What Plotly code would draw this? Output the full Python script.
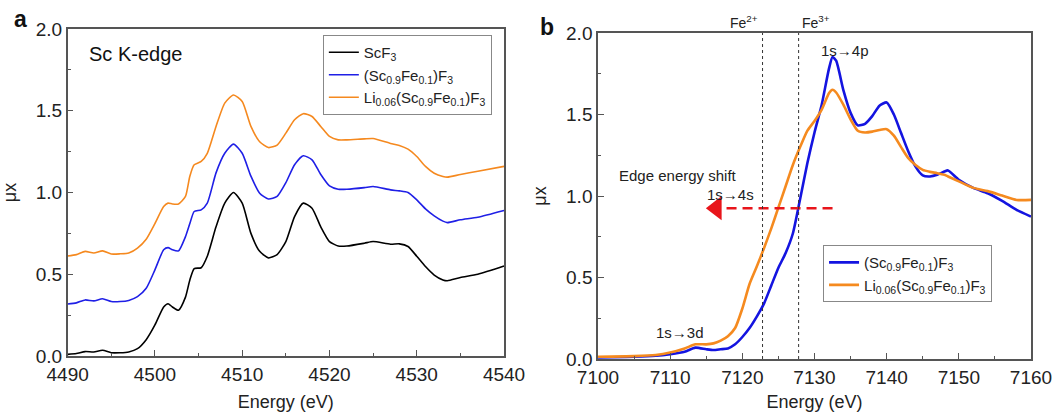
import plotly.graph_objects as go

# ---------------- data: panel a (Sc K-edge) ----------------
energy_a = [4490, 4491, 4492, 4493, 4494, 4495, 4496, 4497, 4498, 4499, 4500, 4501, 4501.5, 4502, 4502.7,
            4503.5, 4504, 4504.5, 4505.3, 4506, 4507, 4508, 4509, 4510, 4511, 4512, 4513, 4514, 4515, 4516,
            4517, 4518, 4519, 4520, 4521, 4522, 4524, 4525, 4527, 4528, 4529, 4530, 4531, 4532, 4533,
            4533.5, 4535, 4537, 4540]
scf3 = [0.01, 0.015, 0.027, 0.025, 0.035, 0.02, 0.02, 0.025, 0.045, 0.10, 0.19, 0.30, 0.32, 0.30, 0.28,
        0.36, 0.465, 0.535, 0.54, 0.61, 0.79, 0.935, 1.0, 0.935, 0.75, 0.64, 0.60, 0.62, 0.70, 0.853,
        0.935, 0.904, 0.79, 0.70, 0.673, 0.673, 0.69, 0.70, 0.684, 0.686, 0.67, 0.61, 0.547, 0.495, 0.465,
        0.46, 0.48, 0.50, 0.55]
scfe_a = [0.318, 0.325, 0.343, 0.337, 0.35, 0.333, 0.333, 0.34, 0.363, 0.414, 0.527, 0.65, 0.663, 0.65, 0.643,
          0.73, 0.81, 0.884, 0.894, 0.935, 1.12, 1.24, 1.296, 1.24, 1.10, 0.996, 0.96, 0.976, 1.06, 1.17,
          1.225, 1.20, 1.11, 1.04, 1.02, 1.02, 1.03, 1.037, 1.016, 1.01, 1.00, 0.955, 0.90, 0.857, 0.825,
          0.816, 0.833, 0.849, 0.89]
li_a = [0.612, 0.62, 0.64, 0.63, 0.643, 0.624, 0.625, 0.63, 0.66, 0.714, 0.81, 0.914, 0.935, 0.93, 0.93,
        0.976, 1.10, 1.17, 1.19, 1.24, 1.404, 1.547, 1.596, 1.557, 1.404, 1.31, 1.275, 1.29, 1.363, 1.445,
        1.482, 1.465, 1.404, 1.343, 1.322, 1.322, 1.328, 1.33, 1.30, 1.288, 1.265, 1.22, 1.16, 1.118, 1.098,
        1.094, 1.11, 1.13, 1.16]

# ---------------- data: panel b (Fe K-edge) ----------------
energy_b = [7100, 7105, 7108, 7110, 7112, 7113.5, 7115, 7116, 7117, 7118, 7119, 7120, 7121, 7122, 7123, 7124,
            7125, 7126, 7127, 7128, 7129, 7130, 7131, 7132, 7132.5, 7133, 7134, 7135, 7136, 7137, 7138, 7139,
            7140, 7141, 7142, 7143, 7144, 7145, 7146, 7147, 7148, 7148.5, 7150, 7152, 7154, 7156, 7158, 7160]
scfe_b = [0.01, 0.014, 0.02, 0.03, 0.045, 0.07, 0.06, 0.055, 0.06, 0.065, 0.09, 0.135, 0.19, 0.26, 0.34, 0.45,
          0.56, 0.65, 0.77, 0.98, 1.20, 1.39, 1.56, 1.78, 1.853, 1.83, 1.65, 1.51, 1.433, 1.443, 1.49, 1.554,
          1.574, 1.50, 1.386, 1.273, 1.18, 1.126, 1.12, 1.13, 1.15, 1.157, 1.10, 1.05, 1.017, 0.97, 0.915, 0.874]
li_b = [0.014, 0.018, 0.025, 0.04, 0.065, 0.09, 0.09, 0.096, 0.113, 0.14, 0.19, 0.31, 0.46, 0.567, 0.68, 0.80,
        0.93, 1.06, 1.19, 1.30, 1.40, 1.46, 1.53, 1.63, 1.652, 1.635, 1.56, 1.47, 1.40, 1.39, 1.395, 1.405,
        1.41, 1.37, 1.30, 1.232, 1.19, 1.16, 1.148, 1.14, 1.13, 1.12, 1.09, 1.05, 1.03, 1.003, 0.976, 0.976]

fe2_energy = 7122.8
fe3_energy = 7127.8
shift_y = 0.925
shift_start = 7132.5
shift_end = 7117.8
shift_tip = 7116.4

names_a = ["ScF<sub>3</sub>", "(Sc<sub>0.9</sub>Fe<sub>0.1</sub>)F<sub>3</sub>",
           "Li<sub>0.06</sub>(Sc<sub>0.9</sub>Fe<sub>0.1</sub>)F<sub>3</sub>"]
colors_a = ["#000000", "#1f1fe6", "#f5891f"]
blue_b = "#1414e0"
orange_b = "#f58a1f"

FONT = "Arial, Liberation Sans, sans-serif"
AXC = "#555555"

fig = go.Figure()

for ys, nm, c in zip([scf3, scfe_a, li_a], names_a, colors_a):
    fig.add_trace(go.Scatter(x=energy_a, y=ys, name=nm, mode="lines",
                             line=dict(color=c, width=1.6, shape="spline", smoothing=0.6),
                             xaxis="x", yaxis="y", legend="legend"))

fig.add_trace(go.Scatter(x=energy_b, y=scfe_b, name=names_a[1], mode="lines",
                         line=dict(color=blue_b, width=2.6, shape="spline", smoothing=0.6),
                         xaxis="x2", yaxis="y2", legend="legend2"))
fig.add_trace(go.Scatter(x=energy_b, y=li_b, name=names_a[2], mode="lines",
                         line=dict(color=orange_b, width=2.6, shape="spline", smoothing=0.6),
                         xaxis="x2", yaxis="y2", legend="legend2"))

# dashed edge-shift arrow
fig.add_trace(go.Scatter(x=[shift_start, shift_end], y=[shift_y, shift_y], mode="lines",
                         line=dict(color="#e8151b", width=2.6, dash="10px,6px"),
                         xaxis="x2", yaxis="y2", showlegend=False, hoverinfo="skip"))
fig.add_trace(go.Scatter(x=[shift_tip], y=[shift_y], mode="markers",
                         marker=dict(symbol="triangle-left", size=21, color="#e8151b"),
                         xaxis="x2", yaxis="y2", showlegend=False, hoverinfo="skip"))

# Fe2+/Fe3+ dotted reference lines
for xe in [fe2_energy, fe3_energy]:
    fig.add_shape(type="line", x0=xe, x1=xe, y0=0, y1=2.0, xref="x2", yref="y2",
                  line=dict(color="#333333", width=1, dash="dot"))

axis_common = dict(showline=True, linecolor=AXC, linewidth=1.5, mirror=True, ticks="inside",
                   tickcolor=AXC, tickwidth=1.2, ticklen=6, showgrid=False, zeroline=False,
                   automargin=False,
                   tickfont=dict(family=FONT, size=19, color="#222222"))
title_font = dict(family=FONT, size=18, color="#222222")

fig.update_layout(
    width=1062, height=412, margin=dict(l=0, r=0, t=0, b=0),
    paper_bgcolor="white", plot_bgcolor="white",
    font=dict(family=FONT, color="#222222"),
    xaxis=dict(domain=[0.0637, 0.4746], range=[4490, 4540], dtick=10,
               minor=dict(ticks="inside", ticklen=3.5, tickcolor=AXC, dtick=5),
               title=dict(text="Energy (eV)", font=title_font),
               anchor="y", **axis_common),
    yaxis=dict(domain=[0.1359, 0.9296], range=[0, 2.0], dtick=0.5, tickformat=".1f",
               minor=dict(ticks="inside", ticklen=3.5, tickcolor=AXC, dtick=0.25),
               title=dict(text="μx", font=title_font),
               anchor="x", **axis_common),
    xaxis2=dict(domain=[0.5631, 0.9708], range=[7100, 7160], dtick=10,
                minor=dict(ticks="inside", ticklen=3.5, tickcolor=AXC, dtick=5),
                title=dict(text="Energy (eV)", font=title_font),
                anchor="y2", **axis_common),
    yaxis2=dict(domain=[0.1286, 0.9199], range=[0, 2.0], dtick=0.5, tickformat=".1f",
                minor=dict(ticks="inside", ticklen=3.5, tickcolor=AXC, dtick=0.25),
                title=dict(text="μx", font=title_font),
                anchor="x2", **axis_common),
    legend=dict(x=0.304, y=0.915, xanchor="left", yanchor="top", bgcolor="white",
                bordercolor="#888888", borderwidth=1, font=dict(family=FONT, size=15, color="#222222"),
                tracegroupgap=0, itemwidth=30),
    legend2=dict(x=0.775, y=0.405, xanchor="left", yanchor="top", bgcolor="white",
                 bordercolor="#888888", borderwidth=1, font=dict(family=FONT, size=15, color="#222222"),
                 tracegroupgap=0, itemwidth=30),
    showlegend=True,
)

ann_font = dict(family=FONT, size=15, color="#222222")
annotations = [
    dict(text="<b>a</b>", x=0.011, y=0.955, xref="paper", yref="paper", xanchor="left", yanchor="middle",
         showarrow=False, font=dict(family=FONT, size=23, color="#111111")),
    dict(text="<b>b</b>", x=0.507, y=0.935, xref="paper", yref="paper", xanchor="left", yanchor="middle",
         showarrow=False, font=dict(family=FONT, size=23, color="#111111")),
    dict(text="Sc K-edge", x=4492.2, y=1.85, xref="x", yref="y", xanchor="left", yanchor="middle",
         showarrow=False, font=dict(family=FONT, size=20, color="#111111")),
    dict(text="Fe<sup>2+</sup>", x=fe2_energy - 0.4, y=2.0, xref="x2", yref="y2", xanchor="right",
         yanchor="bottom", yshift=0, showarrow=False, font=dict(family=FONT, size=14, color="#222222")),
    dict(text="Fe<sup>3+</sup>", x=fe3_energy + 0.2, y=2.0, xref="x2", yref="y2", xanchor="left",
         yanchor="bottom", yshift=0, showarrow=False, font=dict(family=FONT, size=14, color="#222222")),
    dict(text="1s→4p", x=7134.2, y=1.89, xref="x2", yref="y2", showarrow=False, font=ann_font),
    dict(text="Edge energy shift", x=7102.6, y=1.125, xref="x2", yref="y2", xanchor="left",
         showarrow=False, font=ann_font),
    dict(text="1s→4s", x=7118.3, y=1.01, xref="x2", yref="y2", showarrow=False, font=ann_font),
    dict(text="1s→3d", x=7111.3, y=0.16, xref="x2", yref="y2", showarrow=False, font=ann_font),
]
fig.update_layout(annotations=annotations)

fig.write_html("out.html")
